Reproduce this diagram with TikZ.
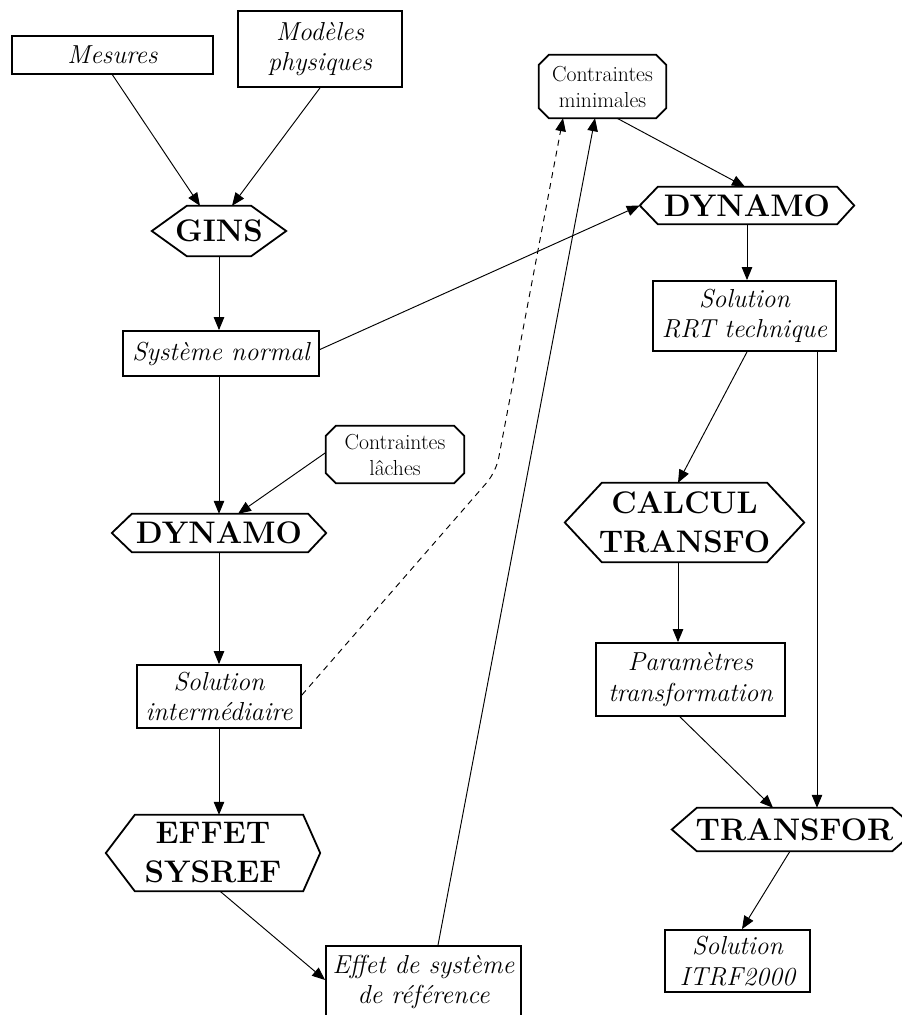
\documentclass[tikz,border=0pt]{standalone}
\usepackage{fontspec}
\usetikzlibrary{arrows.meta}
\tikzset{
  boxline/.style={line width=1.8pt},
  rbox/.style={draw, boxline, rectangle, inner sep=1pt},
  ghost/.style={draw=none, rectangle, inner sep=1pt},
  itx/.style={font=\fontsize{26}{30.4}\selectfont\itshape, align=center},
  bfx/.style={font=\fontsize{31.2}{39}\selectfont\bfseries, align=center},
  rmx/.style={font=\fontsize{21.7}{26}\selectfont, align=center},
  conn/.style={line width=0.95pt, -{Triangle[length=13pt,width=10.5pt]}},
  dconn/.style={conn, dash pattern=on 6pt off 5pt},
}
\newcommand\hexo[3]{\draw[boxline] (#1.west) -- ([xshift=#2]#1.north west) -- ([xshift=-#3]#1.north east) -- (#1.east) -- ([xshift=-#3]#1.south east) -- ([xshift=#2]#1.south west) -- cycle;}
\newcommand\octo[2]{\draw[boxline] ([xshift=#2]#1.north west) -- ([xshift=-#2]#1.north east) -- ([yshift=-#2]#1.north east) -- ([yshift=#2]#1.south east) -- ([xshift=-#2]#1.south east) -- ([xshift=#2]#1.south west) -- ([yshift=#2]#1.south west) -- ([yshift=-#2]#1.north west) -- cycle;}
\begin{document}
\begin{tikzpicture}[x=1pt,y=-1pt]
\useasboundingbox (0,0) rectangle (902,1015);
% rectangles
\node[rbox, itx, minimum width=201pt, minimum height=38pt] (mes) at (112.5,55) {Mesures};
\node[rbox, itx, minimum width=164pt, minimum height=76pt] (mod) at (320,49) {Modèles\\physiques};
\node[rbox, itx, minimum width=196pt, minimum height=45pt] (sn) at (221,353.5) {Système normal};
\node[rbox, itx, minimum width=164pt, minimum height=63pt] (si) at (219,696.5) {Solution\\intermédiaire};
\node[rbox, itx, minimum width=195pt, minimum height=72pt] (eff) at (423.5,982) {Effet de système\\de référence};
\node[rbox, itx, minimum width=183pt, minimum height=70pt] (rrt) at (744.5,316) {Solution\\RRT technique};
\node[rbox, itx, minimum width=189pt, minimum height=73pt] (par) at (690.5,679.5) {Paramètres\\transformation};
\node[rbox, itx, minimum width=145pt, minimum height=62pt] (itrf) at (737.5,961) {Solution\\ITRF2000};
% octagons
\node[ghost, rmx, minimum width=127pt, minimum height=63pt] (cmin) at (602.5,86.5) {Contraintes\\minimales};
\octo{cmin}{10pt}
\node[ghost, rmx, minimum width=138pt, minimum height=57pt] (clach) at (395,454.5) {Contraintes\\lâches};
\octo{clach}{10pt}
% hexagons
\node[ghost, bfx, minimum width=134pt, minimum height=50pt] (gins) at (219,231) {GINS};
\hexo{gins}{35pt}{35pt}
\node[ghost, bfx, minimum width=214pt, minimum height=38pt] (dyn1) at (219,533) {DYNAMO};
\hexo{dyn1}{20pt}{18pt}
\node[ghost, bfx, minimum width=214pt, minimum height=37pt] (dyn2) at (747,205.5) {DYNAMO};
\hexo{dyn2}{18pt}{17pt}
\node[ghost, bfx, minimum width=239pt, minimum height=79pt] (calc) at (684.5,522.5) {CALCUL\\TRANSFO};
\hexo{calc}{37pt}{37pt}
\node[ghost, bfx, minimum width=214pt, minimum height=76pt] (effs) at (213,853) {EFFET\\SYSREF};
\hexo{effs}{29pt}{17pt}
\node[ghost, bfx, minimum width=245pt, minimum height=43pt] (trans) at (794.5,829.5) {TRANSFOR};
\hexo{trans}{25pt}{25pt}
\coordinate (bend) at (496,472);
% connectors
\draw[conn] (mes.south) -- ([xshift=-19pt]gins.north);
\draw[conn] (mod.south) -- ([xshift=13pt]gins.north);
\draw[conn] (gins.south) -- (gins.south |- sn.north);
\draw[conn] (sn.south -| dyn1.north) -- (dyn1.north);
\draw[conn] ([yshift=2pt]clach.west) -- ([xshift=19pt]dyn1.north);
\draw[conn] ([yshift=4pt]sn.east) -- (dyn2.west);
\draw[conn] (dyn1.south) -- (si.north);
\draw[dconn, rounded corners=14pt] ([yshift=1.5pt]si.east) -- (bend) -- ([xshift=-39.5pt]cmin.south);
\draw[conn] (si.south) -- (si.south |- effs.north);
\draw[conn] ([xshift=7pt]effs.south) -- ([yshift=2pt]eff.west);
\draw[conn] ([xshift=14.5pt]eff.north) -- ([xshift=-7.5pt]cmin.south);
\draw[conn] ([xshift=14.5pt]cmin.south) -- ([xshift=-2pt]dyn2.north);
\draw[conn] (dyn2.south) -- (dyn2.south |- rrt.north);
\draw[conn] ([xshift=2.5pt]rrt.south) -- ([xshift=-6.5pt]calc.north);
\draw[conn] ([xshift=72.5pt]rrt.south) -- ([xshift=72.5pt]rrt.south |- trans.north);
\draw[conn] ([xshift=-6.5pt]calc.south) -- ([xshift=-6.5pt]calc.south |- par.north);
\draw[conn] ([xshift=-10.5pt]par.south) -- ([xshift=-21.5pt]trans.north);
\draw[conn] ([xshift=-4.5pt]trans.south) -- ([xshift=4.5pt]itrf.north);
\end{tikzpicture}
\end{document}
